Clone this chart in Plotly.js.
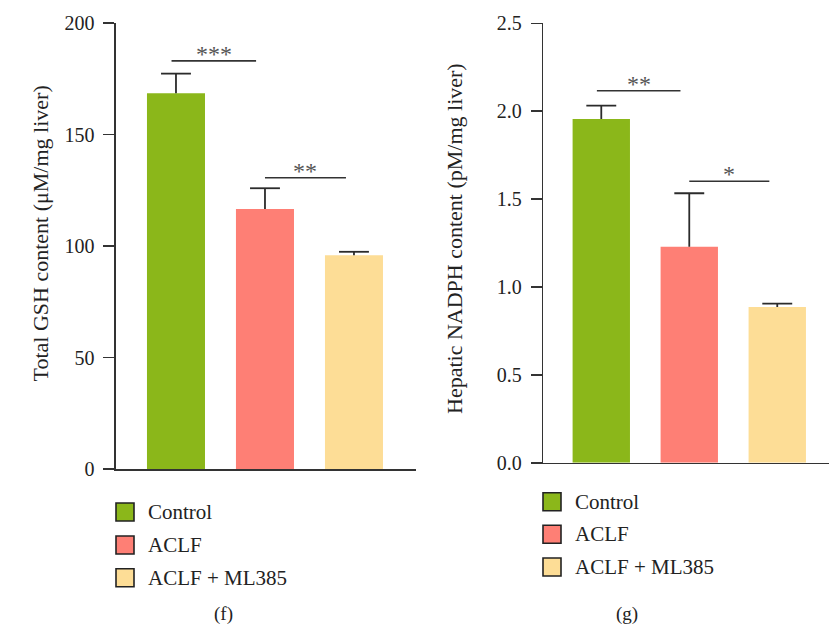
<!DOCTYPE html>
<html>
<head>
<meta charset="utf-8">
<script src="https://cdn.plot.ly/plotly-3.0.1.min.js"></script>
<style>
  html, body { margin: 0; padding: 0; background: #fff; }
  #chart { width: 829px; height: 626px; }
</style>
</head>
<body>
<div id="chart"></div>
<script>
// Groups and their fill colours
const groups = ['Control', 'ACLF', 'ACLF + ML385'];
const groupColors = ['#8bb71a', '#fe7f75', '#fddd96'];

// Panel (f): total GSH content, mean and SEM (upper) per group
const gshMean = [168.5, 116.6, 95.8];
const gshErr = [8.8, 9.3, 1.6];
// Panel (g): hepatic NADPH content
const nadphMean = [1.956, 1.228, 0.886];
const nadphErr = [0.076, 0.305, 0.019];

// Significance brackets: [from x, to x, level, label]
const gshSig = [[-0.05, 0.9, 183, '***'], [1.0, 1.91, 130.6, '**']];
const nadphSig = [[-0.05, 0.9, 2.116, '**'], [1.0, 1.91, 1.601, '*']];

const gshTicks = [0, 50, 100, 150, 200];
const nadphTicks = [0, 0.5, 1.0, 1.5, 2.0, 2.5];
const nadphTickText = ['0.0', '0.5', '1.0', '1.5', '2.0', '2.5'];

const W = 829, H = 626;
const px = v => v / W;
const py = v => 1 - v / H;
const serif = "'Liberation Serif', 'Times New Roman', serif";
const ink = '#2b2b2b';
const pos = groups.map((g, i) => i);

function barTrace(means, xa, ya) {
  return {
    type: 'bar', x: pos, y: means, xaxis: xa, yaxis: ya, text: groups,
    textposition: 'none',
    width: 0.652,
    marker: { color: groupColors, line: { width: 0 } },
    showlegend: false, hoverinfo: 'skip'
  };
}

// Upward-only error bars: stem from bar top, cap at mean + err
function errTrace(means, errs, xa, ya, half) {
  const xs = [], ys = [];
  means.forEach((m, i) => {
    const top = m + errs[i];
    xs.push(i, i, null, i - half, i + half, null);
    ys.push(m, top, null, top, top, null);
  });
  return {
    type: 'scatter', mode: 'lines', x: xs, y: ys, xaxis: xa, yaxis: ya,
    line: { color: ink, width: 1.8 }, connectgaps: false,
    showlegend: false, hoverinfo: 'skip'
  };
}

const data = [
  barTrace(gshMean, 'x', 'y'),
  errTrace(gshMean, gshErr, 'x', 'y', 0.168),
  barTrace(nadphMean, 'x2', 'y2'),
  errTrace(nadphMean, nadphErr, 'x2', 'y2', 0.17)
];

const shapes = [];
const annotations = [];

function addBrackets(list, xr, yr) {
  list.forEach(b => {
    shapes.push({ type: 'line', xref: xr, yref: yr, x0: b[0], x1: b[1], y0: b[2], y1: b[2],
      line: { color: '#333', width: 1.6 } });
    annotations.push({ xref: xr, yref: yr, x: (b[0] + b[1]) / 2, y: b[2], text: b[3],
      showarrow: false, yanchor: 'middle', yshift: 7,
      font: { family: serif, size: 24, color: '#555' } });
  });
}
addBrackets(gshSig, 'x', 'y');
addBrackets(nadphSig, 'x2', 'y2');

// Axis titles
annotations.push({ xref: 'paper', yref: 'paper', x: px(25), y: py(234), textangle: -90,
  text: 'Total GSH content (μM/mg liver)', showarrow: false,
  font: { family: serif, size: 22, color: '#222' } });
annotations.push({ xref: 'paper', yref: 'paper', x: px(454), y: py(239), textangle: -90,
  text: 'Hepatic NADPH content (pM/mg liver)', showarrow: false,
  font: { family: serif, size: 22, color: '#222' } });

// Legends drawn as swatches with labels
function addLegend(x0, yCenters, textX) {
  groups.forEach((g, i) => {
    const yc = yCenters[i];
    shapes.push({ type: 'rect', xref: 'paper', yref: 'paper',
      x0: px(x0), x1: px(x0 + 18), y0: py(yc + 9), y1: py(yc - 9),
      fillcolor: groupColors[i], line: { color: '#222', width: 1.6 } });
    annotations.push({ xref: 'paper', yref: 'paper', x: px(textX), y: py(yc),
      xanchor: 'left', yanchor: 'middle', text: g, showarrow: false,
      font: { family: serif, size: 21, color: '#222' } });
  });
}
addLegend(116, [512, 545, 577.7], 146);
addLegend(543, [501.7, 534.3, 567], 573);

// Panel letters
annotations.push({ xref: 'paper', yref: 'paper', x: px(213), y: 0, yanchor: 'bottom',
  borderpad: 0, text: '(f)', showarrow: false,
  font: { family: serif, size: 19, color: '#222' } });
annotations.push({ xref: 'paper', yref: 'paper', x: px(639), y: 0, yanchor: 'bottom',
  borderpad: 0, text: '(g)', showarrow: false,
  font: { family: serif, size: 19, color: '#222' } });

const xCommon = {
  type: 'linear',
  showticklabels: false, ticks: '', showgrid: false, zeroline: false,
  showline: true, linecolor: '#333', linewidth: 1.6, fixedrange: true
};
const yCommon = {
  showgrid: false, zeroline: false, showline: true, linecolor: '#333', linewidth: 1.6,
  ticks: 'outside', ticklen: 11, tickwidth: 1.6, tickcolor: '#333',
  ticklabelstandoff: 5,
  tickfont: { family: serif, size: 20, color: '#222' }, fixedrange: true
};

const layout = {
  width: W, height: H,
  margin: { l: 0, r: 0, t: 0, b: 0 },
  paper_bgcolor: '#fff', plot_bgcolor: '#fff',
  showlegend: false,
  font: { family: serif },
  xaxis: Object.assign({}, xCommon, { domain: [px(116), px(416)], range: [-0.674, 2.697], anchor: 'y' }),
  yaxis: Object.assign({}, yCommon, { domain: [py(469), py(23)], range: [0, 200],
    tickvals: gshTicks, anchor: 'x' }),
  xaxis2: Object.assign({}, xCommon, { domain: [px(543.3), 1], range: [-0.659, 2.588], anchor: 'y2' }),
  yaxis2: Object.assign({}, yCommon, { domain: [py(462.7), py(23.3)], range: [0, 2.5],
    tickvals: nadphTicks, ticktext: nadphTickText, anchor: 'x2' }),
  shapes: shapes,
  annotations: annotations
};

Plotly.newPlot('chart', data, layout, { staticPlot: true, displayModeBar: false });
</script>
</body>
</html>
